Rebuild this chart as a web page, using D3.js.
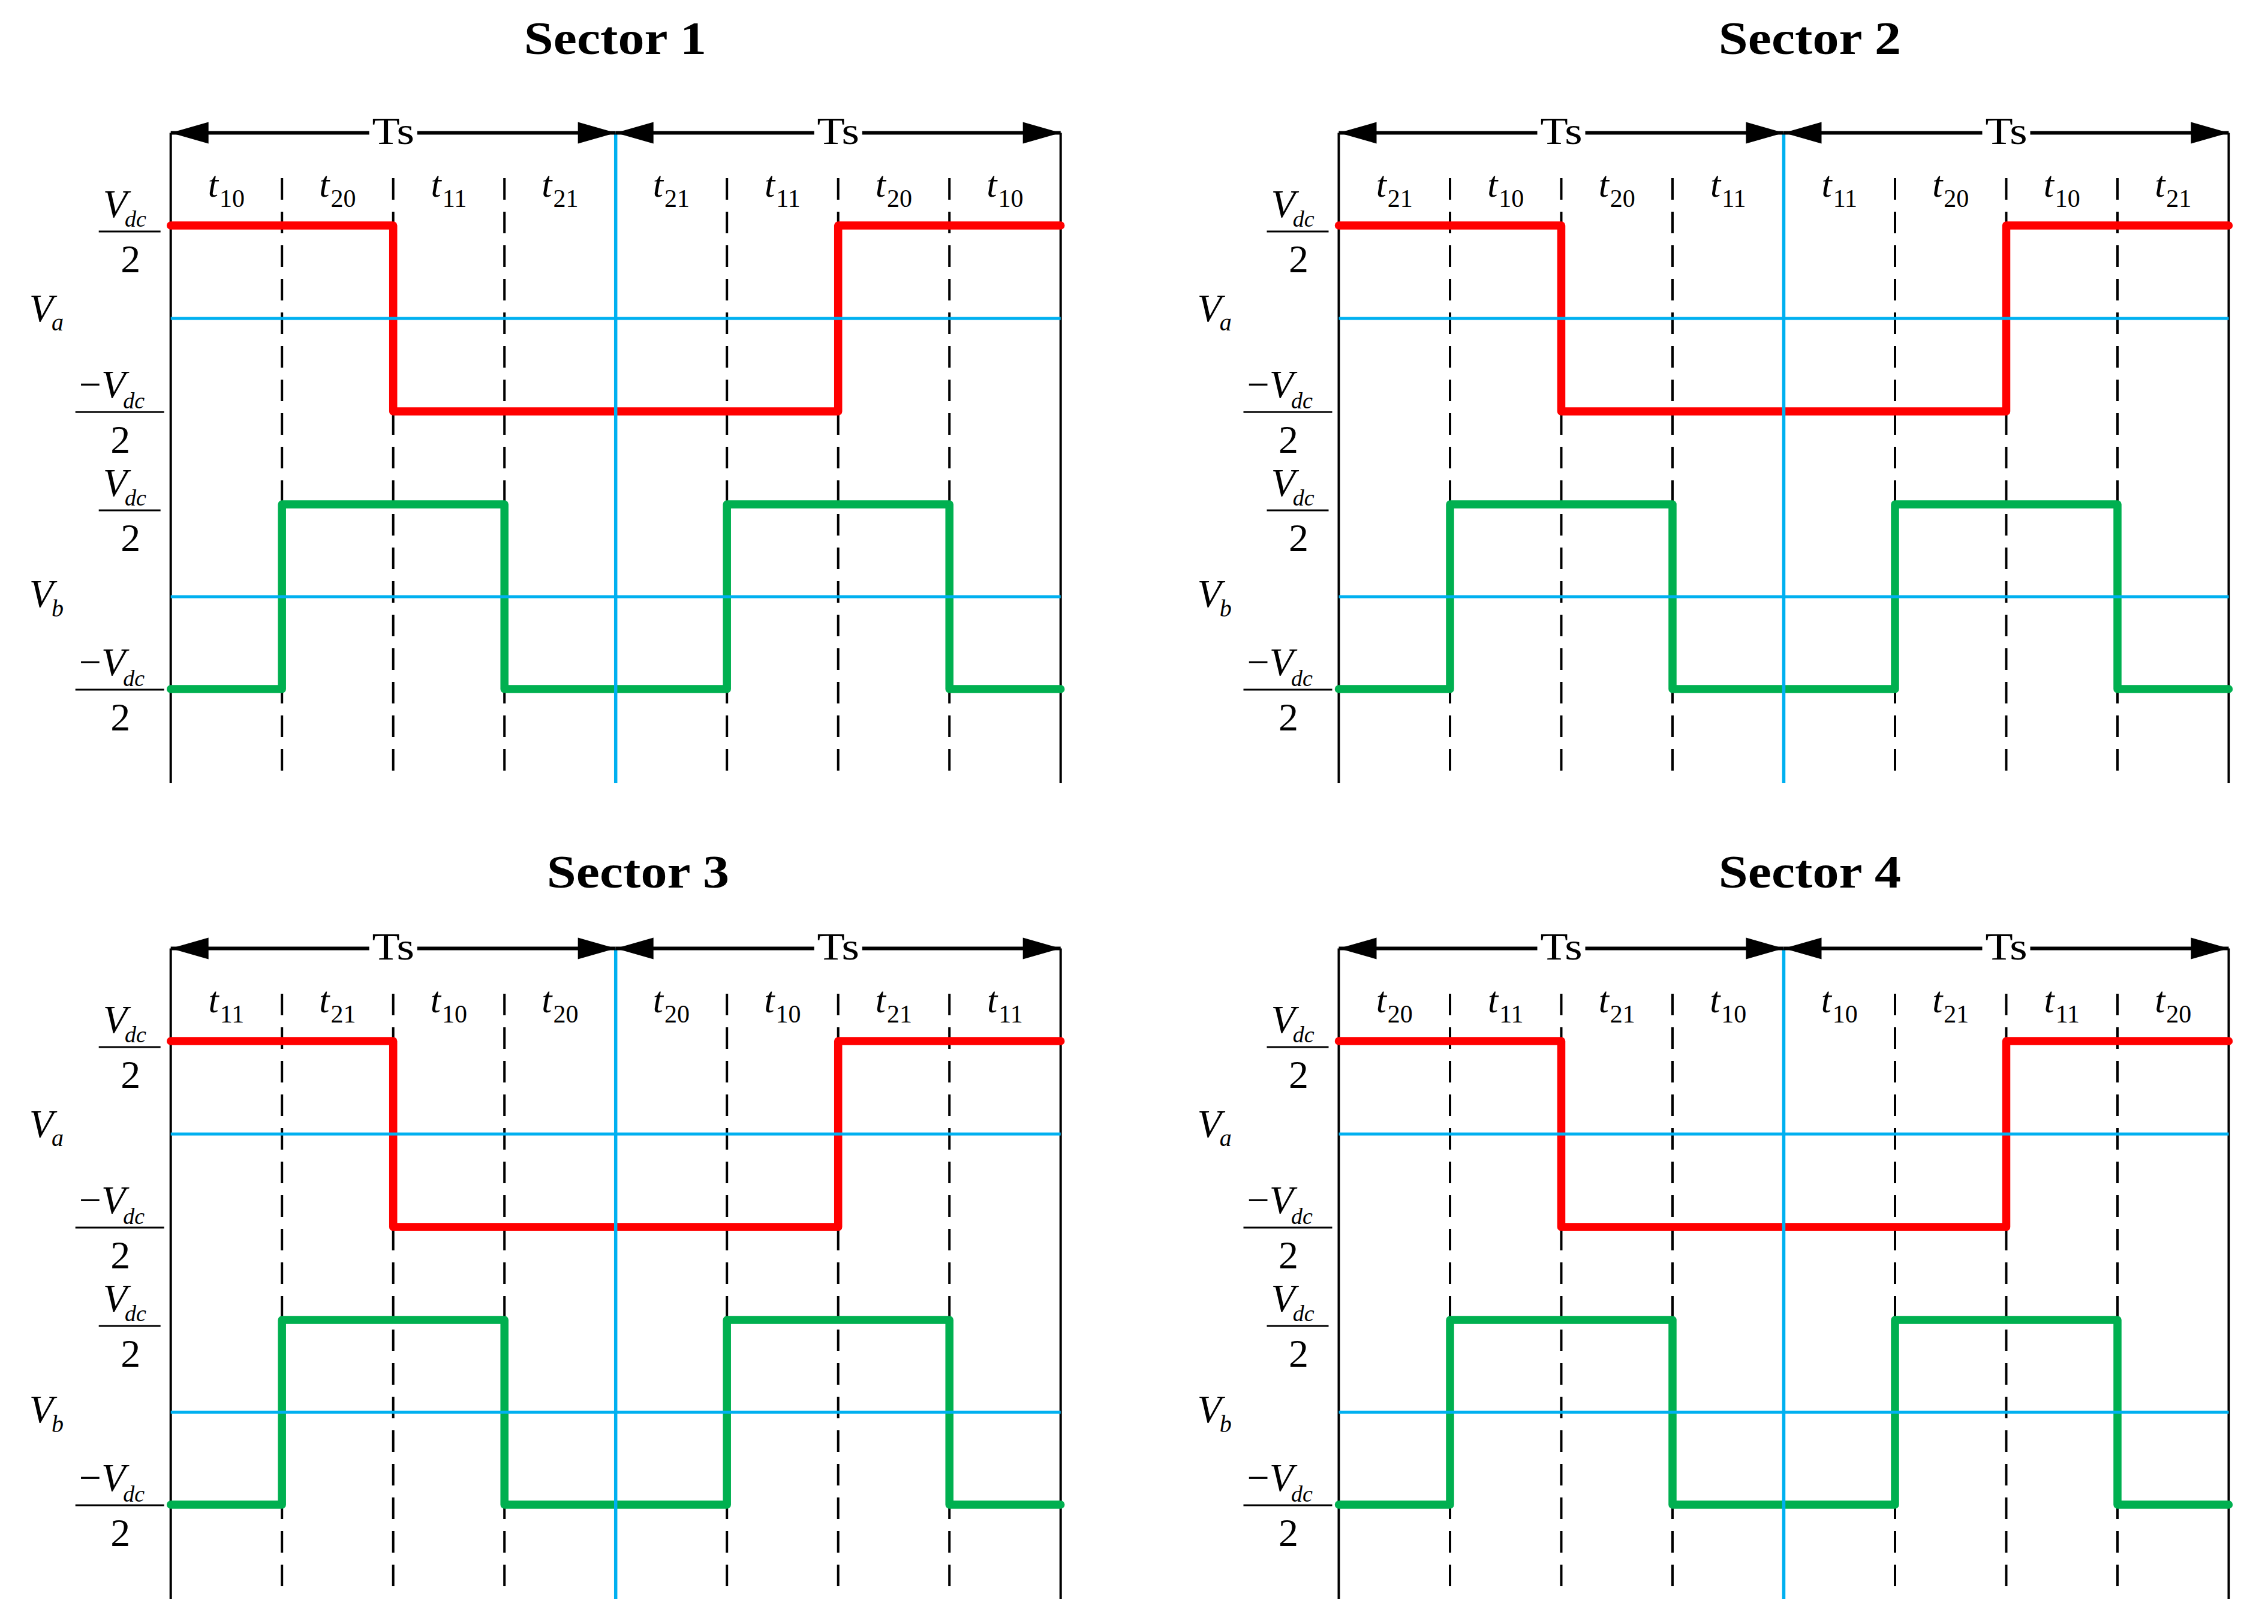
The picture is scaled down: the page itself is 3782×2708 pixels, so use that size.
<!DOCTYPE html>
<html><head><meta charset="utf-8">
<script src="https://cdn.jsdelivr.net/npm/d3@7"></script>
<style>html,body{margin:0;padding:0;background:#fff;} svg{display:block;}</style>
</head><body>
<script>
// ---------- data ----------
const sectorTitles = ["Sector 1", "Sector 2", "Sector 3", "Sector 4"];
const segmentSubscripts = [
  ["10","20","11","21","21","11","20","10"],
  ["21","10","20","11","11","20","10","21"],
  ["11","21","10","20","20","10","21","11"],
  ["20","11","21","10","10","21","11","20"]
];
const vaStates = [1, 1, -1, -1, -1, -1, 1, 1];
const vbStates = [-1, 1, 1, -1, -1, 1, 1, -1];
const periodLabels = ["Ts", "Ts"];
const channelNames = [["V","a"], ["V","b"]];

// ---------- layout ----------
const W = 3782, H = 2708;
const SEG = 185.5;
const panels = [
  {x: 284.7, y: 221.5, tx: 1026, ty: 90},
  {x: 2232.5, y: 221.5, tx: 3018, ty: 90},
  {x: 284.7, y: 1581.5, tx: 1064, ty: 1480},
  {x: 2232.5, y: 1581.5, tx: 3018, ty: 1480}
];
const OFF = {vaHi:154.5, vaMid:309.5, vaLo:464.5, vbHi:619.5, vbMid:773, vbLo:927.5,
             bottom:1084.5, dashTop:75.5, dashBot:1074.5};
const RED = "#FF0000", GREEN = "#00B050", BLUE = "#00B0F0";
const FONT = '"Times New Roman","Liberation Serif",serif';

const svg = d3.select("body").append("svg").attr("width", W).attr("height", H);
svg.append("rect").attr("width", W).attr("height", H).attr("fill", "#fff");

function fracTop(g, x0, yL) {
  const t = g.append("text").attr("x", x0 - 113).attr("y", yL - 14)
    .attr("font-family", FONT).attr("font-style", "italic").attr("font-size", 66);
  t.append("tspan").text("V");
  t.append("tspan").attr("font-size", 38).attr("dx", -4).attr("dy", 16).text("dc");
  g.append("line").attr("x1", x0 - 120).attr("x2", x0 - 17).attr("y1", yL + 10).attr("y2", yL + 10)
    .attr("stroke", "#000").attr("stroke-width", 3);
  g.append("text").attr("x", x0 - 67).attr("y", yL + 78).attr("text-anchor", "middle")
    .attr("font-family", FONT).attr("font-size", 66).text("2");
}
function fracBot(g, x0, yL) {
  const t = g.append("text").attr("x", x0 - 153).attr("y", yL - 23)
    .attr("font-family", FONT).attr("font-size", 66);
  t.append("tspan").text("\u2212");
  t.append("tspan").attr("font-style", "italic").text("V");
  t.append("tspan").attr("font-style", "italic").attr("font-size", 38).attr("dx", -4).attr("dy", 18).text("dc");
  g.append("line").attr("x1", x0 - 159).attr("x2", x0 - 11).attr("y1", yL + 1).attr("y2", yL + 1)
    .attr("stroke", "#000").attr("stroke-width", 3);
  g.append("text").attr("x", x0 - 84).attr("y", yL + 69).attr("text-anchor", "middle")
    .attr("font-family", FONT).attr("font-size", 66).text("2");
}
function midLabel(g, x0, yBase, name, subDy) {
  const t = g.append("text").attr("x", x0 - 236).attr("y", yBase)
    .attr("font-family", FONT).attr("font-style", "italic").attr("font-size", 66);
  t.append("tspan").text(name[0]);
  t.append("tspan").attr("font-size", 40).attr("dx", -3).attr("dy", subDy).text(name[1]);
}

panels.forEach((p, k) => {
  const g = svg.append("g");
  const x = d3.scaleLinear().domain([0, 8]).range([p.x, p.x + 8 * SEG]);
  const yA = d3.scaleLinear().domain([-1, 1]).range([p.y + OFF.vaLo, p.y + OFF.vaHi]);
  const yB = d3.scaleLinear().domain([-1, 1]).range([p.y + OFF.vbLo, p.y + OFF.vbHi]);

  // title
  g.append("text").attr("transform", `translate(${p.tx},${p.ty}) scale(1.13,1)`)
    .attr("text-anchor", "middle").attr("font-family", FONT).attr("font-weight", "bold")
    .attr("font-size", 78).text(sectorTitles[k]);

  // solid borders
  [0, 8].forEach(i => g.append("line").attr("x1", x(i)).attr("x2", x(i))
    .attr("y1", p.y).attr("y2", p.y + OFF.bottom).attr("stroke", "#000").attr("stroke-width", 4));
  // dashed separators
  [1, 2, 3, 5, 6, 7].forEach(i => g.append("line").attr("x1", x(i)).attr("x2", x(i))
    .attr("y1", p.y + OFF.dashTop).attr("y2", p.y + OFF.dashBot)
    .attr("stroke", "#000").attr("stroke-width", 4).attr("stroke-dasharray", "36,20"));

  // waveforms
  const line = d3.line().x(d => x(d[0])).y(d => d[1]).curve(d3.curveStepAfter);
  const ptsA = vaStates.map((s, i) => [i, yA(s)]).concat([[8, yA(vaStates[7])]]);
  const ptsB = vbStates.map((s, i) => [i, yB(s)]).concat([[8, yB(vbStates[7])]]);
  g.append("path").attr("d", line(ptsA)).attr("fill", "none").attr("stroke", RED)
    .attr("stroke-width", 13.5).attr("stroke-linejoin", "round").attr("stroke-linecap", "round");
  g.append("path").attr("d", line(ptsB)).attr("fill", "none").attr("stroke", GREEN)
    .attr("stroke-width", 13.5).attr("stroke-linejoin", "round").attr("stroke-linecap", "round");

  // blue reference lines
  [yA(0), yB(0)].forEach(yy => g.append("line").attr("x1", x(0)).attr("x2", x(8))
    .attr("y1", yy).attr("y2", yy).attr("stroke", BLUE).attr("stroke-width", 5));
  g.append("line").attr("x1", x(4)).attr("x2", x(4)).attr("y1", p.y).attr("y2", p.y + OFF.bottom)
    .attr("stroke", BLUE).attr("stroke-width", 5.5);

  // period arrows
  [[0, 4], [4, 8]].forEach(([a, b], j) => {
    const xa = x(a), xb = x(b), yy = p.y;
    g.append("line").attr("x1", xa).attr("x2", xb).attr("y1", yy).attr("y2", yy)
      .attr("stroke", "#000").attr("stroke-width", 6);
    g.append("path").attr("d", `M${xa},${yy}L${xa + 63},${yy - 18}L${xa + 63},${yy + 18}Z`).attr("fill", "#000");
    g.append("path").attr("d", `M${xb},${yy}L${xb - 63},${yy - 18}L${xb - 63},${yy + 18}Z`).attr("fill", "#000");
    const cx = x((a + b) / 2);
    g.append("rect").attr("x", cx - 40).attr("y", yy - 30).attr("width", 80).attr("height", 50).attr("fill", "#fff");
    g.append("text").attr("transform", `translate(${cx},${yy + 18.5}) scale(1.18,1)`)
      .attr("text-anchor", "middle").attr("font-family", FONT).attr("font-size", 64).text(periodLabels[j]);
  });

  // segment labels
  segmentSubscripts[k].forEach((s, i) => {
    const t = g.append("text").attr("x", x(i + 0.5)).attr("y", p.y + 106.5)
      .attr("text-anchor", "middle").attr("font-family", FONT).attr("font-size", 62);
    t.append("tspan").attr("font-style", "italic").text("t");
    t.append("tspan").attr("font-size", 42).attr("dx", 2).attr("dy", 17).text(s);
  });

  // level labels
  fracTop(g, p.x, yA(1));
  fracBot(g, p.x, yA(-1));
  fracTop(g, p.x, yB(1));
  fracBot(g, p.x, yB(-1));
  midLabel(g, p.x, p.y + OFF.vaMid + 5, channelNames[0], 15);
  midLabel(g, p.x, p.y + OFF.vbMid + 17.5, channelNames[1], 16);
});
</script>
</body></html>
